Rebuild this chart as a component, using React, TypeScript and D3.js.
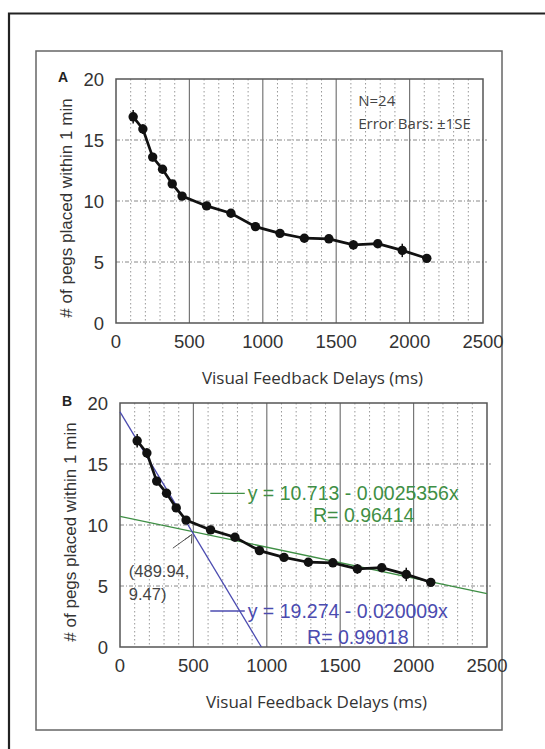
import React from 'react';
import * as d3 from 'd3';

// data
const delays = [117, 183, 250, 317, 383, 450, 617, 783, 950, 1117, 1283, 1450, 1617, 1783, 1950, 2117];
const pegs = [16.9, 15.9, 13.6, 12.6, 11.4, 10.4, 9.6, 9.0, 7.9, 7.35, 6.95, 6.9, 6.4, 6.5, 5.95, 5.3];
const stdErr = [0.55, 0.4, 0.35, 0.35, 0.3, 0.3, 0.3, 0.3, 0.35, 0.3, 0.3, 0.3, 0.4, 0.3, 0.55, 0.3];
const xTicks = [0, 500, 1000, 1500, 2000, 2500];
const yTicks = [0, 5, 10, 15, 20];
const minorX = d3.range(100, 2500, 100).filter((v) => v % 500 !== 0);
const fitSteep = { a: 19.274, b: 0.020009, r: 0.99018 };
const fitShallow = { a: 10.713, b: 0.0025356, r: 0.96414 };
const breakPoint = { x: 489.94, y: 9.47 };

const W = 545;
const H = 749;
const TICK_FONT = 'Liberation Sans, Arial, sans-serif';
const TEXT_FONT = '"Open Sans", "Noto Sans", sans-serif';
const GREEN = '#3f8f45';
const BLUE = '#4b4bb0';

const Panel = ({ label, left, top, right, bottom, fits }) => {
  const x = d3.scaleLinear().domain([0, 2500]).range([left, right]);
  const y = d3.scaleLinear().domain([0, 20]).range([bottom, top]);
  const line = d3
    .line()
    .x((d) => x(d[0]))
    .y((d) => y(d[1]));
  const pts = delays.map((d, i) => [d, pegs[i]]);
  const titleY = (top + bottom) / 2 + 7;

  return (
    <g>
      {/* grid */}
      {minorX.map((v) => (
        <line key={'m' + v} x1={x(v)} x2={x(v)} y1={top} y2={bottom} stroke="#999" strokeWidth={1} strokeDasharray="1.5,2.5" />
      ))}
      {[500, 1000, 1500, 2000].map((v) => (
        <line key={'M' + v} x1={x(v)} x2={x(v)} y1={top} y2={bottom} stroke="#777" strokeWidth={1.2} />
      ))}
      {[5, 10, 15].map((v) => (
        <line key={'h' + v} x1={left} x2={right + 4} y1={y(v)} y2={y(v)} stroke="#888" strokeWidth={1} strokeDasharray="4,2,1,2" />
      ))}
      <rect x={left} y={top} width={right - left} height={bottom - top} fill="none" stroke="#555" strokeWidth={1.5} />

      {/* tick labels */}
      {yTicks.map((v) => (
        <text key={'y' + v} x={left - 12} y={y(v) + 6.5} textAnchor="end" fontFamily={TICK_FONT} fontSize={18.5} fill="#333">
          {v}
        </text>
      ))}
      {xTicks.map((v) => (
        <text key={'x' + v} x={x(v)} y={bottom + 25} textAnchor="middle" fontFamily={TICK_FONT} fontSize={18.5} fill="#333">
          {v}
        </text>
      ))}
      <text x={left - 50} y={titleY} transform={`rotate(-90 ${left - 50} ${titleY})`} dy={6} textAnchor="middle" fontFamily={TICK_FONT} fontSize={17} fill="#333">
        # of pegs placed within 1 min
      </text>
      <text x={(left + right) / 2 + 13} y={bottom + 61} textAnchor="middle" fontFamily={TEXT_FONT} fontSize={17} fill="#333">
        Visual Feedback Delays (ms)
      </text>
      <text x={left - 58} y={top + 3} fontFamily={TICK_FONT} fontSize={14} fontWeight="bold" fill="#222">
        {label}
      </text>

      {/* regression lines */}
      {fits && (
        <g>
          <line x1={x(0)} y1={y(fitShallow.a)} x2={x(2500)} y2={y(fitShallow.a - fitShallow.b * 2500)} stroke={GREEN} strokeWidth={1.3} />
          <line x1={x(0)} y1={y(fitSteep.a)} x2={x(fitSteep.a / fitSteep.b)} y2={y(0)} stroke={BLUE} strokeWidth={1.3} />
        </g>
      )}

      {/* data */}
      <path d={line(pts)} fill="none" stroke="#111" strokeWidth={2.7} />
      {pts.map((p, i) => (
        <line key={'e' + i} x1={x(p[0])} x2={x(p[0])} y1={y(p[1] - stdErr[i])} y2={y(p[1] + stdErr[i])} stroke="#111" strokeWidth={1.5} />
      ))}
      {pts.map((p, i) => (
        <circle key={'c' + i} cx={x(p[0])} cy={y(p[1])} r={4.7} fill="#111" />
      ))}

      {!fits && (
        <g fontFamily={TEXT_FONT} fontSize={15} fill="#444">
          <text x={x(1650)} y={top + 27}>N=24</text>
          <text x={x(1650)} y={top + 50}>Error Bars: ±1SE</text>
        </g>
      )}

      {fits && (
        <g fontFamily={TICK_FONT} fontSize={19.5}>
          <line x1={x(615)} x2={x(850)} y1={y(12.6)} y2={y(12.6)} stroke={GREEN} strokeWidth={1.3} />
          <text x={x(870)} y={y(12.6) + 7} fill={GREEN}>
            y = {fitShallow.a} - {fitShallow.b}x
          </text>
          <text x={x(1660)} y={y(10.8) + 7} textAnchor="middle" fill={GREEN}>
            R= {fitShallow.r}
          </text>
          <line x1={x(615)} x2={x(850)} y1={y(2.95)} y2={y(2.95)} stroke={BLUE} strokeWidth={1.3} />
          <text x={x(870)} y={y(2.95) + 7} fill={BLUE}>
            y = {fitSteep.a} - {fitSteep.b}x
          </text>
          <text x={x(1620)} y={y(0.85) + 7} textAnchor="middle" fill={BLUE}>
            R= {fitSteep.r}
          </text>
          <line x1={x(360)} y1={y(8.1)} x2={x(breakPoint.x)} y2={y(breakPoint.y) + 3} stroke="#555" strokeWidth={1} />
          <path
            d={`M${x(breakPoint.x) - 7},${y(breakPoint.y) + 8} L${x(breakPoint.x)},${y(breakPoint.y) + 3} L${x(breakPoint.x) - 0.5},${y(breakPoint.y) + 12}`}
            fill="none"
            stroke="#555"
            strokeWidth={1}
          />
          <text x={x(60)} y={y(6.2) + 6} fontSize={16.5} fill="#444">
            ({breakPoint.x},
          </text>
          <text x={x(60)} y={y(4.35) + 6} fontSize={16.5} fill="#444">
            {breakPoint.y})
          </text>
        </g>
      )}
    </g>
  );
};

export default function App() {
  return (
    <svg width={W} height={H} style={{ position: 'absolute', left: 0, top: 0, background: '#fff' }}>
      <rect x={0} y={0} width={W} height={H} fill="#fff" />
      <path d={`M9,${H} L9,13.5 L${W + 5},13.5`} fill="none" stroke="#222" strokeWidth={2.2} />
      <rect x={36} y={51} width={466} height={679} fill="none" stroke="#666" strokeWidth={1.5} />
      <Panel label="A" left={116} top={79} right={483} bottom={323} fits={false} />
      <Panel label="B" left={120} top={403} right={487} bottom={647} fits={true} />
    </svg>
  );
}
